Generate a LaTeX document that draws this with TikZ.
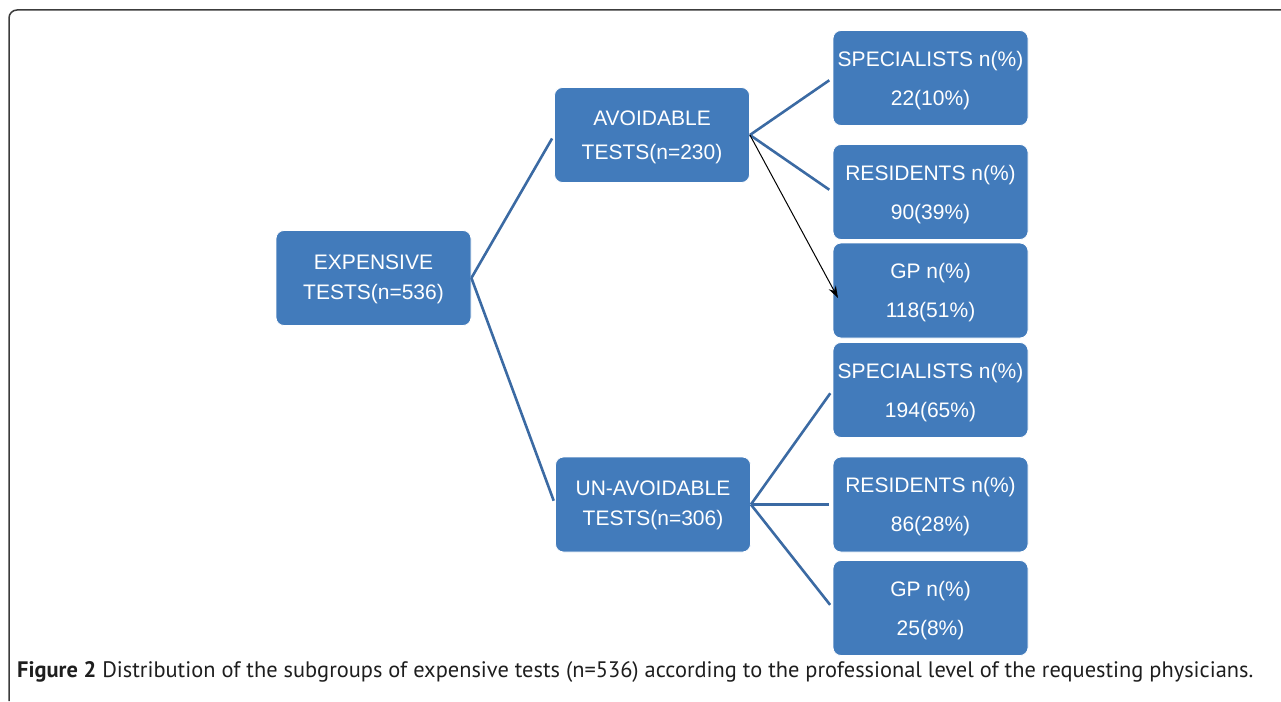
\documentclass[tikz,border=0pt]{standalone}
\usepackage{fontspec}
\setmainfont{Liberation Sans}
\newfontfamily\capfont{PT Sans}
\usetikzlibrary{arrows.meta}
\definecolor{boxblue}{RGB}{66,123,187}
\definecolor{lineblue}{RGB}{59,106,163}
\definecolor{framegray}{RGB}{60,60,60}
\definecolor{captext}{RGB}{30,30,30}

\begin{document}
\begin{tikzpicture}[x=1pt,y=-1pt,>={Stealth[length=12pt,width=8pt]},
    main node/.style={rectangle,rounded corners=8pt,fill=boxblue,draw=white,line width=0.8pt,
        minimum width=195pt,minimum height=95pt,inner sep=0pt,align=center,text=white},
    left node/.style={main node,font=\fontsize{21}{30}\selectfont},
    right node/.style={main node,font=\fontsize{21}{39}\selectfont,text depth=-4pt}]
    \useasboundingbox (0,0) rectangle (1281,701);
    \draw[line width=1.5pt,framegray,rounded corners=8pt] (9,701) -- (9,10) -- (1281,10);

                \node[left node] (exp) at (373.5,278) {\rule{0pt}{17pt}EXPENSIVE\\TESTS(n=536)};
                \node[left node,font=\fontsize{21}{34}\selectfont] (avoid) at (652,135) {\rule{0pt}{20pt}AVOIDABLE\\TESTS(n=230)};
                \node[left node] (unavoid) at (653,504.5) {\rule{0pt}{17pt}UN-AVOIDABLE\\TESTS(n=306)};

                \node[right node] (spec1) at (930.5,78) {SPECIALISTS n(\%)\\22(10\%)};
                \node[right node] (res1) at (930.5,192) {RESIDENTS n(\%)\\90(39\%)};
                \node[right node] (gp1) at (930.5,290.5) {GP n(\%)\\118(51\%)};
                \node[right node] (spec2) at (930.5,390) {SPECIALISTS n(\%)\\194(65\%)};
                \node[right node] (res2) at (930.5,504.5) {RESIDENTS n(\%)\\86(28\%)};
                \node[right node] (gp2) at (930.5,608) {GP n(\%)\\25(8\%)};
                \coordinate (tip) at (838,298);

                \path[lineblue,line width=2.6pt,shorten >=4pt]
                    (exp.east) edge (avoid.west)
                    (exp.east) edge (unavoid.west)
                    (avoid.east) edge (spec1.west)
                    (avoid.east) edge (res1.west)
                    (unavoid.east) edge (spec2.west)
                    (unavoid.east) edge (res2.west)
                    (unavoid.east) edge (gp2.west)
                    ;
                \draw[->,black,line width=1pt] (avoid.east) -- (tip);

    \node[anchor=base west,inner sep=0pt,text=captext,font=\capfont\fontsize{22.4}{26}\selectfont] (caption) at (17,677)
        {\textbf{Figure 2} Distribution of the subgroups of expensive tests (n=536) according to the professional level of the requesting physicians.};
            \end{tikzpicture}
\end{document}
